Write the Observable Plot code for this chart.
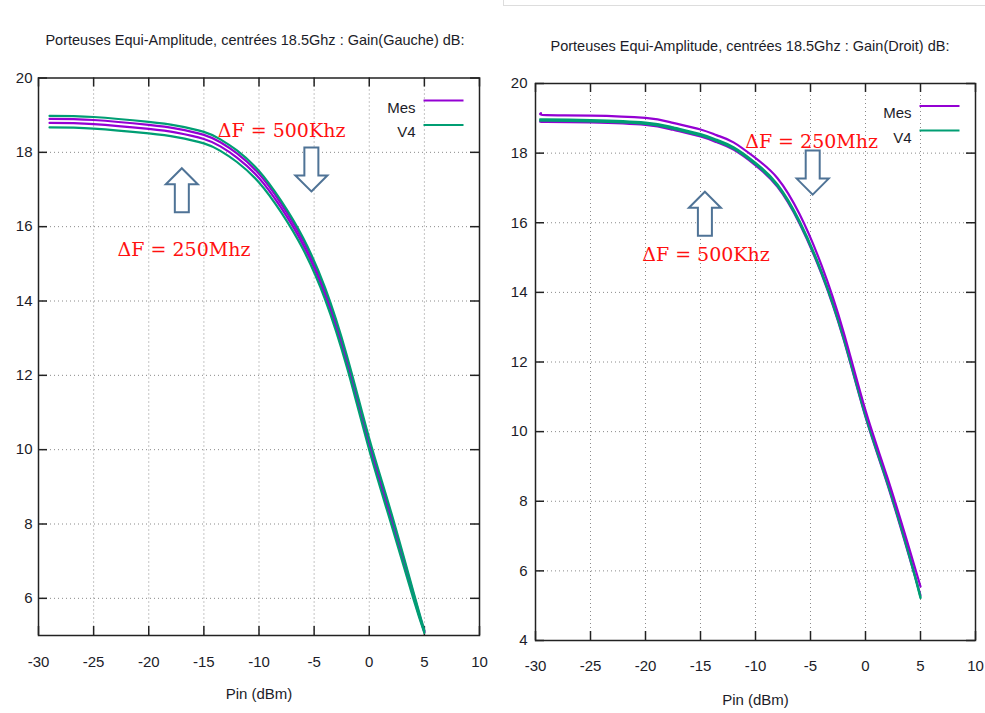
<!DOCTYPE html>
<html><head><meta charset="utf-8">
<script src="https://cdn.jsdelivr.net/npm/d3@7"></script>
<script src="https://cdn.jsdelivr.net/npm/@observablehq/plot@0.6"></script>
<style>
html,body{margin:0;padding:0;background:#fff;}
body{width:985px;height:713px;overflow:hidden;position:relative;font-family:"Liberation Sans",Arial,sans-serif;}
.panel{position:absolute;top:0;}
.panel svg{max-width:none;overflow:visible;}
.title{position:absolute;font-size:14.5px;color:#1c1c28;white-space:nowrap;transform:translate(-50%,-50%);}
#box{position:absolute;left:503px;top:-2px;width:490px;height:6px;border:1px solid #ddd;}
</style></head><body>
<div id="box"></div>
<div id="left" class="panel" style="left:0;width:490px"></div>
<div id="right" class="panel" style="left:490px;width:495px"></div>
<div class="title" style="left:255px;top:40px">Porteuses Equi-Amplitude, centrées 18.5Ghz : Gain(Gauche) dB:</div>
<div class="title" style="left:750px;top:45.5px">Porteuses Equi-Amplitude, centrées 18.5Ghz : Gain(Droit) dB:</div>
<script>
// ---- data ----
const xTicks = [-30, -25, -20, -15, -10, -5, 0, 5, 10];
const yTicksL = [6, 8, 10, 12, 14, 16, 18, 20];
const yTicksR = [4, 6, 8, 10, 12, 14, 16, 18, 20];
const seriesNames = ["Mes", "V4"];

// Left chart: Gain(Gauche)
const pinL = [-29, -25, -20, -17.5, -15, -13.5, -12, -10, -8, -6, -4, -2, 0, 2, 4, 5];
const leftV4A  = [18.98, 18.95, 18.82, 18.72, 18.55, 18.35, 18.05, 17.50, 16.70, 15.70, 14.35, 12.50, 10.30, 8.30, 6.18, 5.13];
const leftMesA = [18.90, 18.87, 18.74, 18.64, 18.47, 18.27, 17.97, 17.42, 16.62, 15.62, 14.27, 12.42, 10.22, 8.22, 6.13, 5.11];
const leftMesB = [18.79, 18.76, 18.63, 18.53, 18.36, 18.16, 17.86, 17.31, 16.51, 15.51, 14.16, 12.31, 10.11, 8.11, 6.06, 5.09];
const leftV4B  = [18.67, 18.64, 18.51, 18.41, 18.24, 18.04, 17.74, 17.19, 16.39, 15.39, 14.04, 12.19, 9.99, 7.99, 5.99, 5.07];

// Right chart: Gain(Droit)
const pinR = [-29.5, -29, -25, -20, -17.5, -15, -13.5, -12, -10, -8, -6, -4, -2, 0, 2, 4, 5];
const rightMesA = [19.15, 19.09, 19.08, 19.01, 18.87, 18.68, 18.51, 18.31, 17.86, 17.28, 16.25, 14.78, 12.87, 10.61, 8.67, 6.62, 5.55];
const rightV4A  = [18.97, 18.97, 18.95, 18.88, 18.74, 18.55, 18.38, 18.17, 17.72, 17.10, 16.05, 14.60, 12.73, 10.49, 8.55, 6.45, 5.25];
const rightV4B  = [18.93, 18.93, 18.91, 18.84, 18.70, 18.51, 18.34, 18.13, 17.68, 17.06, 16.01, 14.56, 12.69, 10.45, 8.51, 6.41, 5.22];
const rightMesB = [18.90, 18.90, 18.88, 18.81, 18.67, 18.48, 18.31, 18.10, 17.65, 17.03, 15.98, 14.53, 12.66, 10.42, 8.48, 6.38, 5.30];

// annotations (data coordinates)
const annLabelsL = ["ΔF = 500Khz", "ΔF = 250Mhz"];
const annXL = [-7.95, -16.8];
const annYL = [18.57, 15.37];
const arrowDirL = ["up", "down"];
const arrowXL = [-17.0, -5.25];
const arrowYL = [16.98, 17.54];

const annLabelsR = ["ΔF = 250Mhz", "ΔF = 500Khz"];
const annXR = [-4.9, -14.5];
const annYR = [18.33, 15.09];
const arrowDirR = ["down", "up"];
const arrowXR = [-4.8, -14.6];
const arrowYR = [17.44, 16.26];

// ---- helpers ----
function toRows(pin, arrs) {
  const rows = [];
  arrs.forEach(([name, type, vals]) => vals.forEach((v, i) => rows.push({pin: pin[i], gain: v, series: name, type})));
  return rows;
}
const arrowUp = {draw(ctx) {
  const w = 16, h = 22, hh = 16, sw = 7;
  ctx.moveTo(0, -h); ctx.lineTo(w, -h + hh); ctx.lineTo(sw, -h + hh); ctx.lineTo(sw, h);
  ctx.lineTo(-sw, h); ctx.lineTo(-sw, -h + hh); ctx.lineTo(-w, -h + hh); ctx.closePath();
}};
const arrowDown = {draw(ctx) {
  const w = 16, h = 22, hh = 16, sw = 7;
  ctx.moveTo(0, h); ctx.lineTo(w, h - hh); ctx.lineTo(sw, h - hh); ctx.lineTo(sw, -h);
  ctx.lineTo(-sw, -h); ctx.lineTo(-sw, h - hh); ctx.lineTo(-w, h - hh); ctx.closePath();
}};
const legendLine = {draw(ctx) { ctx.moveTo(-20, 0); ctx.lineTo(20, 0); }};

function chart({width, height, mt, mr, mb, ml, yDomain, yTicks, rows, ann, arrows, yPad, xPad, labelDy}) {
  const fw = width - ml - mr, fh = height - mt - mb;
  const ups = arrows.filter(a => a.dir === "up"), downs = arrows.filter(a => a.dir === "down");
  return Plot.plot({
    width, height, marginTop: mt, marginRight: mr, marginBottom: mb, marginLeft: ml,
    style: {fontFamily: "'Liberation Sans', Arial, sans-serif", fontSize: "15px", color: "#1c1c28", background: "transparent", overflow: "visible"},
    x: {domain: [-30, 10]},
    y: {domain: yDomain},
    color: {domain: seriesNames, range: ["#9400d3", "#009e73"]},
    marks: [
      Plot.gridX(xTicks.slice(1, -1), {stroke: "#8a8a8a", strokeOpacity: 1, strokeDasharray: "1,3"}),
      Plot.gridY(yTicks.filter(t => t > yDomain[0] && t < yDomain[1]), {stroke: "#8a8a8a", strokeOpacity: 1, strokeDasharray: "1,3"}),
      Plot.ruleX(xTicks, {x: d => d, insetBottom: fh - 9, stroke: "#222", strokeWidth: 1.5}),
      Plot.ruleX(xTicks, {x: d => d, insetTop: fh - 9, stroke: "#222", strokeWidth: 1.5}),
      Plot.ruleY(yTicks, {y: d => d, insetRight: fw - 9, stroke: "#222", strokeWidth: 1.5}),
      Plot.ruleY(yTicks, {y: d => d, insetLeft: fw - 9, stroke: "#222", strokeWidth: 1.5}),
      Plot.axisX({ticks: xTicks, tickSize: 0, tickPadding: xPad, tickFormat: d => String(d), label: null}),
      Plot.axisY({ticks: yTicks, tickSize: 0, tickPadding: yPad, tickFormat: d => String(d), label: null}),
      Plot.frame({stroke: "#222", strokeWidth: 1.5}),
      Plot.line(rows, {x: "pin", y: "gain", z: "series", stroke: "type", strokeWidth: 2.2, curve: "natural"}),
      Plot.text(ann, {x: "x", y: "y", text: "label", fill: "#ff1010", fontFamily: "'DejaVu Serif', 'Liberation Serif', serif", fontSize: 19}),
      Plot.dot(ups, {x: "x", y: "y", symbol: arrowUp, fill: "white", stroke: "#4f7396", strokeWidth: 2}),
      Plot.dot(downs, {x: "x", y: "y", symbol: arrowDown, fill: "white", stroke: "#4f7396", strokeWidth: 2}),
      ...seriesNames.flatMap((name, i) => [
        Plot.text([name], {frameAnchor: "top-right", dx: -64, dy: 24 + i * 24.5, textAnchor: "end", text: d => d, fontSize: 15}),
        Plot.dot([name], {frameAnchor: "top-right", dx: -36, dy: 22.5 + i * 24.5, symbol: legendLine, stroke: d => d, strokeWidth: 2.2})
      ]),
      Plot.text(["Pin (dBm)"], {frameAnchor: "bottom", dy: labelDy, text: d => d, fontSize: 15})
    ]
  });
}

const rowsL = toRows(pinL, [["MesA", "Mes", leftMesA], ["MesB", "Mes", leftMesB], ["V4A", "V4", leftV4A], ["V4B", "V4", leftV4B]]);
const rowsR = toRows(pinR, [["MesB", "Mes", rightMesB], ["V4A", "V4", rightV4A], ["V4B", "V4", rightV4B], ["MesA", "Mes", rightMesA]]);
const annL = annLabelsL.map((label, i) => ({label, x: annXL[i], y: annYL[i]}));
const annR = annLabelsR.map((label, i) => ({label, x: annXR[i], y: annYR[i]}));
const arrL = arrowDirL.map((dir, i) => ({dir, x: arrowXL[i], y: arrowYL[i]}));
const arrR = arrowDirR.map((dir, i) => ({dir, x: arrowXR[i], y: arrowYR[i]}));

document.getElementById("left").append(chart({
  width: 490, height: 713, mt: 77.5, mr: 11, mb: 78, ml: 38,
  yDomain: [5, 20], yTicks: yTicksL, rows: rowsL, ann: annL, arrows: arrL, yPad: 6, xPad: 21, labelDy: 63
}));
document.getElementById("right").append(chart({
  width: 495, height: 713, mt: 83, mr: 10, mb: 73, ml: 45,
  yDomain: [4, 20], yTicks: yTicksR, rows: rowsR, ann: annR, arrows: arrR, yPad: 8, xPad: 20, labelDy: 64
}));
</script>
</body></html>
